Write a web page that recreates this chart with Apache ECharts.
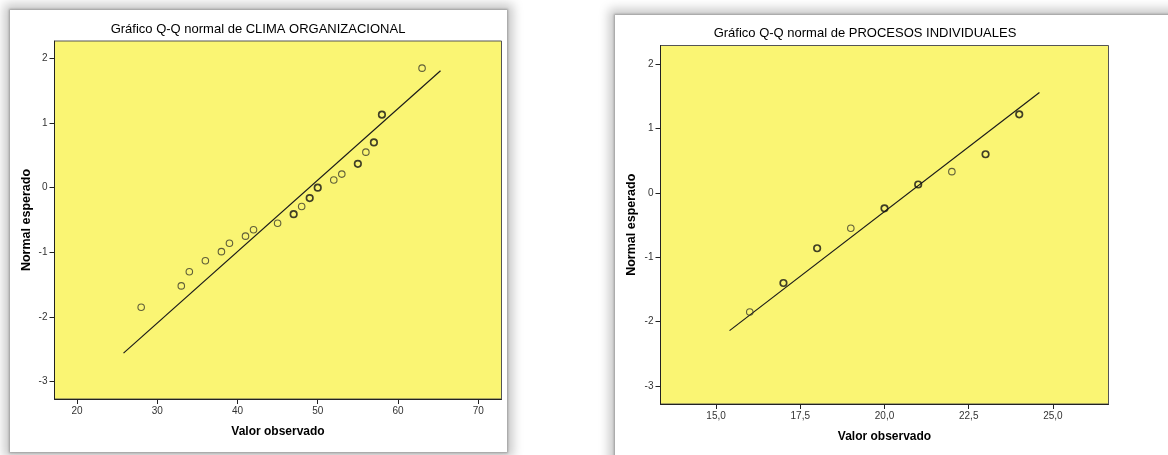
<!DOCTYPE html>
<html><head><meta charset="utf-8">
<script src="https://cdn.jsdelivr.net/npm/echarts@6/dist/echarts.min.js"></script>
<style>
html,body{margin:0;padding:0;background:#fff;width:1168px;height:455px;overflow:hidden;}
.panel{position:absolute;background:#fff;box-shadow:0 0 2px 1px rgba(0,0,0,0.25), 0 0 10px 6px rgba(0,0,0,0.22);}
#p1{left:10px;top:10px;width:497px;height:442px;}
#p2{left:615px;top:15px;width:570px;height:450px;}
#chart{position:absolute;left:0;top:0;width:1168px;height:455px;}
</style></head><body>
<div class="panel" id="p1"></div><div class="panel" id="p2"></div>
<div id="chart"></div>
<script>
// ---- Data: CLIMA ORGANIZACIONAL ----
const climaObserved = [28,33,34,36,38,39,41,42,45,47,48,49,50,52,53,55,56,57,58,63];
const climaExpected = [-1.85,-1.52,-1.30,-1.13,-0.99,-0.86,-0.75,-0.65,-0.55,-0.41,-0.29,-0.16,0.00,0.12,0.21,0.37,0.55,0.70,1.13,1.85];
const climaCount    = [1,1,1,1,1,1,1,1,1,2,1,2,2,1,1,2,1,2,2,1];
const climaLineX = [25.8, 65.3];
const climaLineY = [-2.56, 1.81];
const climaXTicks = [20,30,40,50,60,70];

// ---- Data: PROCESOS INDIVIDUALES ----
const procObserved = [16,17,18,19,20,21,22,23,24];
const procExpected = [-1.85,-1.40,-0.86,-0.55,-0.24,0.13,0.33,0.60,1.22];
const procCount    = [1,2,2,1,2,2,1,2,2];
const procLineX = [15.4, 24.6];
const procLineY = [-2.14, 1.56];
const procXTicks = [15,17.5,20,22.5,25];

const yTicks = [-3,-2,-1,0,1,2];

const titles = ['Gráfico Q-Q normal de CLIMA ORGANIZACIONAL','Gráfico Q-Q normal de PROCESOS INDIVIDUALES'];
const xName = 'Valor observado';
const yName = 'Normal esperado';

const FONT = 'Liberation Sans, Arial, sans-serif';

function pts(xs, ys, cs){
  return xs.map((x,i)=>({value:[x,ys[i]], itemStyle:{borderWidth: cs[i]>1?1.7:1.1, borderColor: cs[i]>1?'#111':'#3a3a2a'}}));
}
function xAxisCfg(idx, min, max, ticks, fmt, gap){
  return {
    type:'value', gridIndex:idx, min:min, max:max,
    name:xName, nameLocation:'middle', nameGap:gap,
    nameTextStyle:{fontFamily:FONT, fontWeight:'bold', fontSize:12, color:'#000'},
    splitLine:{show:false},
    axisLine:{show:true, onZero:false, lineStyle:{color:'#222', width:1}},
    axisTick:{show:true, length:5, customValues:ticks, lineStyle:{color:'#222'}},
    axisLabel:{customValues:ticks, fontFamily:FONT, fontSize:10, color:'#333', margin:7, formatter:fmt}
  };
}
function yAxisCfg(idx, min, max, gap){
  return {
    type:'value', gridIndex:idx, min:min, max:max,
    name:yName, nameLocation:'middle', nameGap:gap, nameRotate:90,
    nameTextStyle:{fontFamily:FONT, fontWeight:'bold', fontSize:12.5, color:'#000'},
    splitLine:{show:false},
    axisLine:{show:true, onZero:false, lineStyle:{color:'#222', width:1}},
    axisTick:{show:true, length:5, customValues:yTicks, lineStyle:{color:'#222'}},
    axisLabel:{customValues:yTicks, fontFamily:FONT, fontSize:10, color:'#333', margin:7}
  };
}
const gridStyle = {show:true, backgroundColor:'#FAF573', borderColor:'#555', borderWidth:1};

const chart = echarts.init(document.getElementById('chart'), null, {renderer:'canvas'});
chart.setOption({
  animation:false,
  backgroundColor:'transparent',
  title:[
    {text:titles[0], left:258, top:23, textAlign:'center', padding:0,
     textStyle:{fontFamily:FONT, fontSize:13, fontWeight:'normal', color:'#000'}},
    {text:titles[1], left:865, top:27, textAlign:'center', padding:0,
     textStyle:{fontFamily:FONT, fontSize:13, fontWeight:'normal', color:'#000'}}
  ],
  grid:[
    Object.assign({left:54.5, top:41, width:447, height:358}, gridStyle),
    Object.assign({left:660.5, top:45.5, width:448, height:358.5}, gridStyle)
  ],
  xAxis:[
    xAxisCfg(0, 17.2, 72.9, climaXTicks, v=>String(v), 27),
    xAxisCfg(1, 13.35, 26.65, procXTicks, v=>v.toFixed(1).replace('.',','), 27)
  ],
  yAxis:[
    yAxisCfg(0, -3.27, 2.27, 21),
    yAxisCfg(1, -3.28, 2.29, 22)
  ],
  series:[
    {type:'line', xAxisIndex:0, yAxisIndex:0, data:climaLineX.map((x,i)=>[x,climaLineY[i]]),
     symbol:'none', lineStyle:{color:'#1a1a1a', width:1.2}, silent:true, z:2},
    {type:'scatter', xAxisIndex:0, yAxisIndex:0, data:pts(climaObserved, climaExpected, climaCount),
     symbol:'circle', symbolSize:6.5, itemStyle:{color:'rgba(0,0,0,0)'}, z:3},
    {type:'line', xAxisIndex:1, yAxisIndex:1, data:procLineX.map((x,i)=>[x,procLineY[i]]),
     symbol:'none', lineStyle:{color:'#1a1a1a', width:1.2}, silent:true, z:2},
    {type:'scatter', xAxisIndex:1, yAxisIndex:1, data:pts(procObserved, procExpected, procCount),
     symbol:'circle', symbolSize:6.5, itemStyle:{color:'rgba(0,0,0,0)'}, z:3}
  ]
});
</script></body></html>
